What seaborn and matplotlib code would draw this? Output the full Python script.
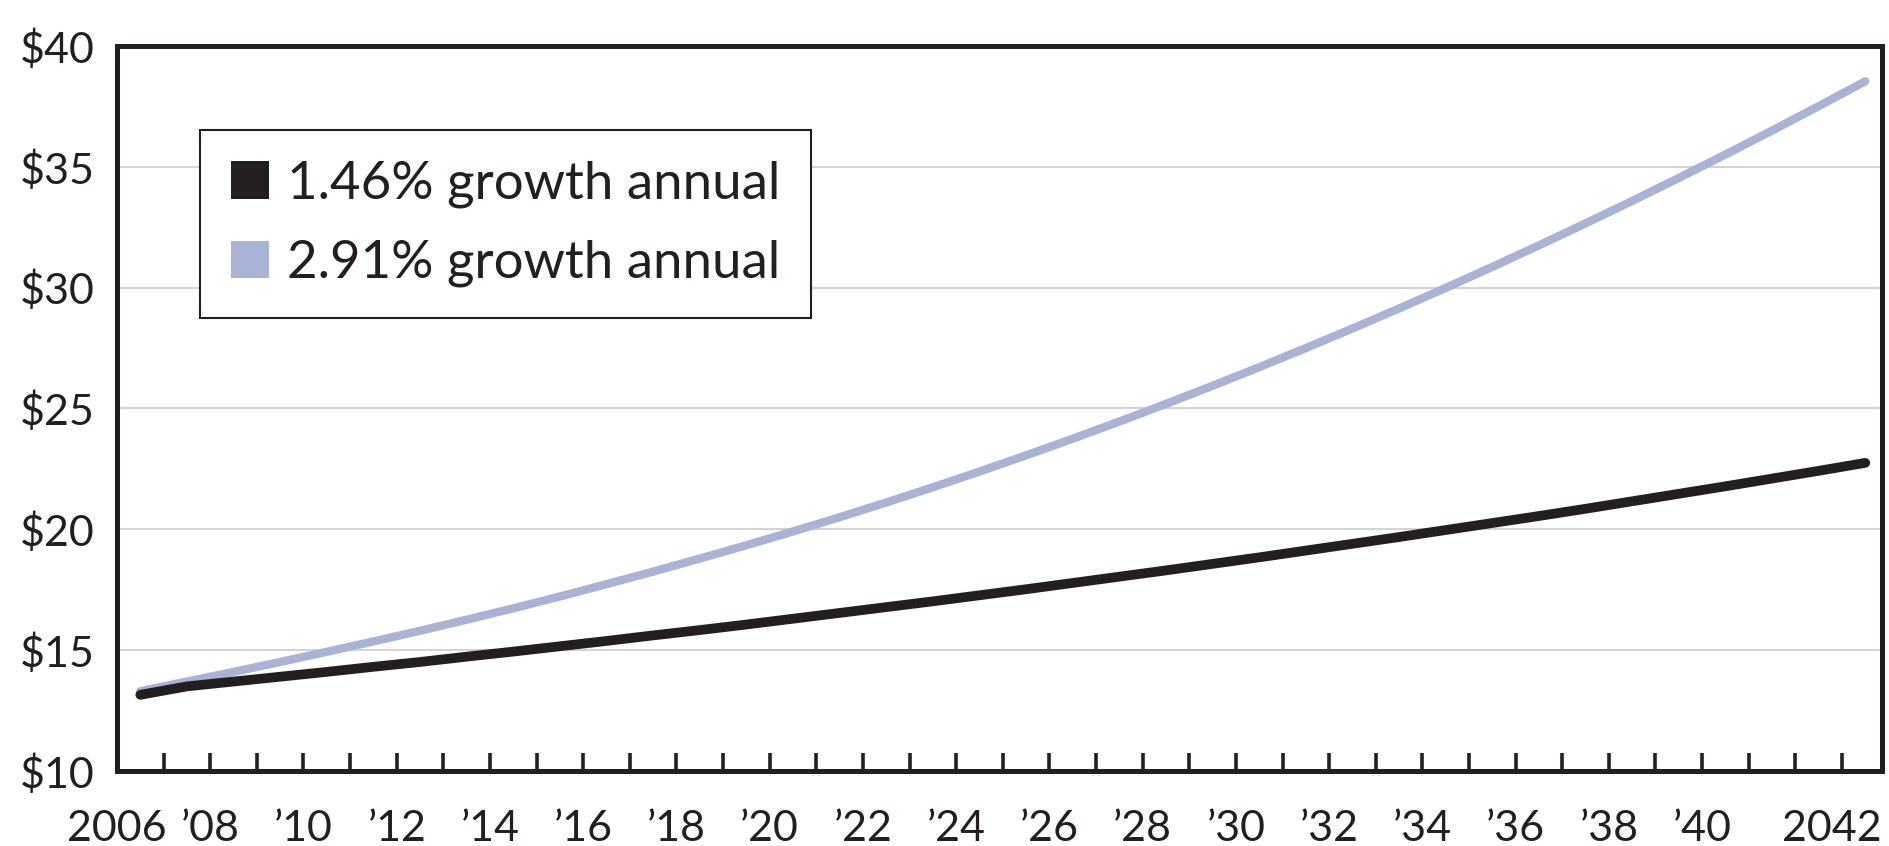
import numpy as np
import pandas as pd
import matplotlib
matplotlib.use("Agg")
import matplotlib.pyplot as plt
from matplotlib.patches import Patch
import seaborn as sns

# ---- data ----
years = list(range(2006, 2044))
low_growth = [13.15, 13.50, 13.70, 13.90, 14.10, 14.31, 14.51, 14.73, 14.94, 15.16,
              15.38, 15.61, 15.83, 16.06, 16.30, 16.54, 16.78, 17.02, 17.27, 17.52,
              17.78, 18.04, 18.30, 18.57, 18.84, 19.12, 19.40, 19.68, 19.97, 20.26,
              20.55, 20.85, 21.16, 21.47, 21.78, 22.10, 22.42, 22.75]
high_growth = [13.30, 13.70, 14.10, 14.51, 14.93, 15.36, 15.80, 16.26, 16.73, 17.22,
               17.73, 18.25, 18.79, 19.34, 19.91, 20.50, 21.11, 21.74, 22.39, 23.06,
               23.75, 24.46, 25.19, 25.94, 26.71, 27.50, 28.31, 29.14, 29.99, 30.86,
               31.75, 32.66, 33.59, 34.54, 35.51, 36.50, 37.51, 38.54]
series_labels = ["1.46% growth annual", "2.91% growth annual"]
y_ticks = [10, 15, 20, 25, 30, 35, 40]
y_tick_labels = ["$10", "$15", "$20", "$25", "$30", "$35", "$40"]
x_label_years = [2006, 2008, 2010, 2012, 2014, 2016, 2018, 2020, 2022, 2024,
                 2026, 2028, 2030, 2032, 2034, 2036, 2038, 2040, 2042]
x_tick_labels = ["2006", "\u201908", "\u201910", "\u201912", "\u201914", "\u201916",
                 "\u201918", "\u201920", "\u201922", "\u201924", "\u201926", "\u201928",
                 "\u201930", "\u201932", "\u201934", "\u201936", "\u201938", "\u201940", "2042"]

BLACK = "#231f20"
BLUE = "#a9b3d6"

sns.set_style("white")
plt.rcParams["font.family"] = ["Lato", "DejaVu Sans"]

df = pd.DataFrame({
    "year": years + years,
    "value": high_growth + low_growth,
    "series": [series_labels[1]] * len(years) + [series_labels[0]] * len(years),
})

fig, ax = plt.subplots(figsize=(18.9, 8.46), dpi=100)
fig.subplots_adjust(left=0.0619, right=0.9958, bottom=0.0887, top=0.9456)

sns.lineplot(data=df[df["series"] == series_labels[1]], x="year", y="value",
             color=BLUE, linewidth=6.0, solid_capstyle="round", ax=ax, zorder=3)
sns.lineplot(data=df[df["series"] == series_labels[0]], x="year", y="value",
             color=BLACK, linewidth=7.0, solid_capstyle="round", ax=ax, zorder=4)

x_left, x_right = 2005.5, 2043.36
ax.set_xlim(x_left, x_right)
ax.set_ylim(10, 40)

# y axis
ax.set_yticks(y_ticks)
ax.set_yticklabels(y_tick_labels, fontsize=31)
ax.tick_params(axis="y", length=0, pad=16, labelcolor=BLACK)
ax.yaxis.grid(True, color="#d4d4d4", linewidth=1.5)
ax.xaxis.grid(False)
ax.set_axisbelow(True)

# x axis
ax.xaxis.remove_overlapping_locs = False
pos = [y - 0.5 for y in x_label_years[:-1]] + [x_right]
ax.set_xticks(pos)
ax.set_xticklabels(x_tick_labels, fontsize=31)
ax.get_xticklabels()[-1].set_ha("right")
ax.tick_params(axis="x", which="major", length=0, pad=28, labelcolor=BLACK)
ax.set_xticks(np.arange(2006.5, 2043.0, 1.0), minor=True)
ax.tick_params(axis="x", which="minor", direction="in", length=13, width=2.6,
               color=BLACK, bottom=True)

ax.set_xlabel("")
ax.set_ylabel("")

for s in ax.spines.values():
    s.set_visible(True)
    s.set_color(BLACK)
    s.set_linewidth(3.6)

handles = [Patch(facecolor=BLACK, edgecolor="none"), Patch(facecolor=BLUE, edgecolor="none")]
leg = ax.legend(handles, series_labels, loc="upper left", bbox_to_anchor=(0.047, 0.884),
                borderaxespad=0, fontsize=38, frameon=True, fancybox=False,
                handlelength=0.72, handleheight=0.72, handletextpad=0.35,
                labelspacing=0.6, borderpad=0.58)
leg.get_frame().set_edgecolor(BLACK)
leg.get_frame().set_linewidth(1.5)
leg.get_frame().set_alpha(1)
for t in leg.get_texts():
    t.set_color(BLACK)

fig.savefig("out.png", dpi=100, facecolor="white")
